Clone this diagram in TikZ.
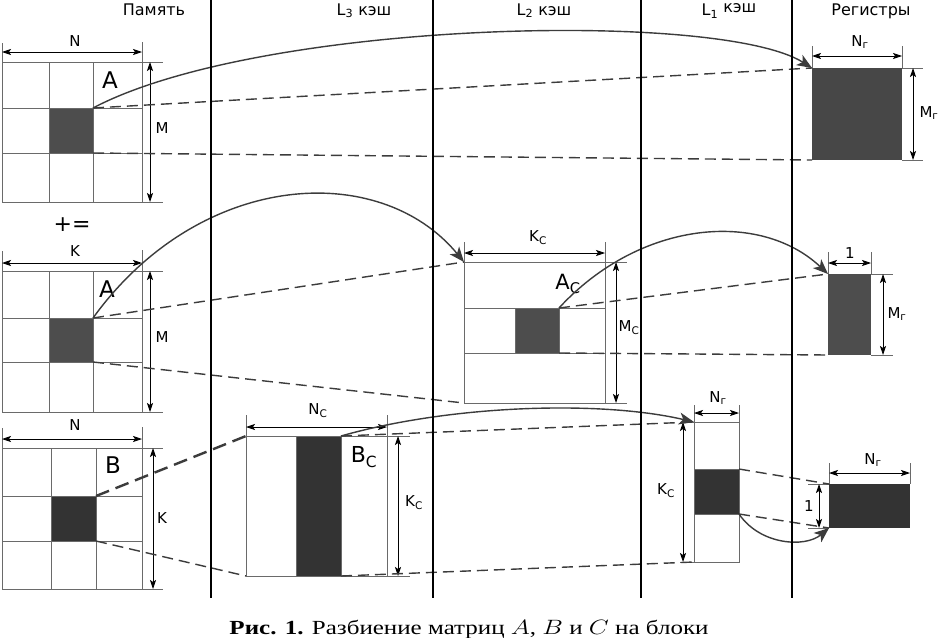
\documentclass[tikz,border=0pt]{standalone}
\usepackage{fontspec}
\newfontfamily\dv{DejaVu Sans}
\newfontfamily\capf{Liberation Serif}
\usetikzlibrary{arrows.meta}
\definecolor{lc}{HTML}{3C3C3C}
\definecolor{gc}{HTML}{6A6A6A}
\definecolor{dk}{HTML}{333333}
\definecolor{md}{HTML}{4D4D4D}
\begin{document}
\begin{tikzpicture}[x=1pt,y=-1pt,
 vline/.style={line width=2.6pt, black},
 gridln/.style={draw=gc, line width=0.9pt},
 dimarr/.style={{Stealth[length=9pt,width=6pt,inset=2pt]}-{Stealth[length=9pt,width=6pt,inset=2pt]}, line width=0.8pt, black},
 blk/.style={draw=gc, line width=0.9pt, inner sep=0pt, outer sep=0pt, anchor=north west},
 conn/.style={draw=lc, line width=1.4pt},
 dsh/.style={conn, dash pattern=on 11pt off 6pt},
 bigtip/.style={-{Stealth[length=15pt,width=12pt,inset=4pt]}},
 hdr/.style={font=\dv\fontsize{16}{18}\selectfont, anchor=base, inner sep=0pt},
 dimlbl/.style={font=\dv\fontsize{15}{17}\selectfont, inner sep=0pt},
 biglbl/.style={font=\dv\fontsize{23}{26}\selectfont, inner sep=0pt},
]
\fill[white] (0,0) rectangle (939,637);
\useasboundingbox (0,0) rectangle (939,637);

% headers
\node[hdr] (hmem) at (154,15) {Память};
\node[hdr] (hl3) at (364,15) {L\textsubscript{3} кэш};
\node[hdr] (hl2) at (544,15) {L\textsubscript{2} кэш};
\node[hdr] (hl1) at (729,16) {L\textsubscript{1} \raisebox{3pt}{кэш}};
\node[hdr] (hreg) at (871,15) {Регистры};

% ---------- Matrix A (top) ----------
\draw[gridln] (2,62) -- (163,62) (2,202) -- (163,202);
\draw[gridln] (2,108) -- (142,108) (2,153) -- (142,153);
\draw[gridln] (2,43) -- (2,202) (142,42) -- (142,202);
\draw[gridln] (49,62) -- (49,202) (93,62) -- (93,202);
\node[blk, fill=md, minimum width=44pt, minimum height=45pt] (a1c) at (49,108) {};
\draw[dimarr] (2,52) -- (142,52);
\draw[dimarr] (150,62) -- (150,202);
\node[dimlbl] (lN1) at (75,41) {N};
\node[dimlbl] (lM1) at (162,128) {M};
\node[biglbl] (lA1) at (110,80) {A};

% ---------- Matrix A (middle) ----------
\node[font=\dv\fontsize{22}{24}\selectfont, inner sep=0pt] (pe) at (72,225) {+=};
\draw[gridln] (2,271) -- (163,271) (2,412) -- (163,412);
\draw[gridln] (2,318) -- (142,318) (2,362) -- (142,362);
\draw[gridln] (2,251) -- (2,412) (142,250) -- (142,412);
\draw[gridln] (49,271) -- (49,412) (93,271) -- (93,412);
\node[blk, fill=md, minimum width=44pt, minimum height=44pt] (a2c) at (49,318) {};
\draw[dimarr] (2,263) -- (142,263);
\draw[dimarr] (150,271) -- (150,412);
\node[dimlbl] (lK2) at (75,251) {K};
\node[dimlbl] (lM2) at (162,337) {M};
\node[biglbl] (lA2) at (107,289) {A};

% ---------- Matrix B ----------
\draw[gridln] (2,448) -- (163,448) (2,589) -- (163,589);
\draw[gridln] (2,496) -- (142,496) (2,541) -- (142,541);
\draw[gridln] (2,428) -- (2,589) (142,427) -- (142,589);
\draw[gridln] (51,448) -- (51,589) (96,448) -- (96,589);
\node[blk, fill=dk, minimum width=45pt, minimum height=45pt] (bc) at (51,496) {};
\draw[dimarr] (2,439) -- (142,439);
\draw[dimarr] (153,448) -- (153,589);
\node[dimlbl] (lN3) at (75,425) {N};
\node[dimlbl] (lK3) at (162,518) {K};
\node[biglbl] (lB) at (113,465) {B};

% ---------- L3: B_c ----------
\node[blk, minimum width=141pt, minimum height=140pt] (bcb) at (246,436) {};
\node[blk, fill=dk, minimum width=45pt, minimum height=140pt] (bcc) at (296,436) {};
\draw[gridln] (246,415) -- (246,436) (387,415) -- (387,436) (387,436) -- (410,436) (387,576) -- (410,576);
\draw[dimarr] (246,427) -- (387,427);
\draw[dimarr] (398,436) -- (398,576);
\node[dimlbl] (lNc) at (318,411) {N\textsubscript{C}};
\node[dimlbl] (lKc1) at (414,503) {K\textsubscript{C}};
\node[biglbl, font=\dv\fontsize{22}{24}\selectfont] (lBc) at (364,457) {B\textsubscript{C}};

% ---------- L2: A_c ----------
\node[blk, minimum width=141pt, minimum height=141pt] (acb) at (464,262) {};
\draw[gridln] (464,308) -- (605,308) (464,353) -- (605,353);
\node[blk, fill=md, minimum width=44pt, minimum height=45pt] (acc) at (515,308) {};
\draw[gridln] (464,242) -- (464,262) (605,242) -- (605,262) (605,262) -- (627,262) (605,403) -- (627,403);
\draw[dimarr] (464,253) -- (605,253);
\draw[dimarr] (616,262) -- (616,403);
\node[dimlbl] (lKc2) at (538,238) {K\textsubscript{C}};
\node[dimlbl] (lMc) at (629,328) {M\textsubscript{C}};
\node[biglbl, font=\dv\fontsize{21}{24}\selectfont] (lAc) at (568,284) {A\textsubscript{C}};

% ---------- L1 ----------
\node[blk, minimum width=45pt, minimum height=140pt] (l1blk) at (694,422) {};
\node[blk, fill=dk, minimum width=45pt, minimum height=45pt] (l1c) at (694,469) {};
\draw[gridln] (694,405) -- (694,422) (739,405) -- (739,422) (680,422) -- (694,422) (680,562) -- (694,562);
\draw[dimarr] (694,413) -- (739,413);
\draw[dimarr] (683,422) -- (683,562);
\node[dimlbl] (lNr1) at (718,398) {N\textsubscript{г}};
\node[dimlbl] (lKc3) at (666,491) {K\textsubscript{C}};

% ---------- Registers ----------
\node[blk, draw=none, fill=dk!90!white, minimum width=90pt, minimum height=92pt] (r1) at (812,68) {};
\draw[gridln] (812,46) -- (812,68) (902,46) -- (902,68) (902,68) -- (923,68) (902,160) -- (923,160);
\draw[dimarr] (812,56) -- (902,56);
\draw[dimarr] (913,68) -- (913,160);
\node[dimlbl] (lNr2) at (860,42) {N\textsubscript{г}};
\node[dimlbl] (lMr1) at (929,113) {M\textsubscript{г}};

\node[blk, draw=none, fill=md, minimum width=43pt, minimum height=81pt] (r2) at (828,274) {};
\draw[gridln] (828,252) -- (828,274) (871,252) -- (871,274) (871,274) -- (893,274) (871,355) -- (893,355);
\draw[dimarr] (828,263) -- (871,263);
\draw[dimarr] (883,274) -- (883,355);
\node[dimlbl] (lone1) at (850,253) {1};
\node[dimlbl] (lMr2) at (897,314) {M\textsubscript{г}};

\node[blk, draw=none, fill=dk, minimum width=81pt, minimum height=44pt] (r3) at (829,484) {};
\draw[gridln] (829,463) -- (829,484) (910,463) -- (910,484) (808,484) -- (829,484) (808,528) -- (829,528);
\draw[dimarr] (829,473) -- (910,473);
\draw[dimarr] (819,484) -- (819,528);
\node[dimlbl] (lNr3) at (873,460) {N\textsubscript{г}};
\node[dimlbl] (lone2) at (809,506) {1};

% ---------- connectors ----------
\draw[conn, bigtip] (a1c.north east) .. controls (260,20) and (720,10) .. (r1.north west);
\draw[dsh] (a1c.north east) -- (r1.north west);
\draw[dsh] (a1c.south east) -- (r1.south west);

\draw[conn, bigtip] (a2c.north east) .. controls (200,170) and (380,160) .. (acb.north west);
\draw[dsh] (a2c.north east) -- (acb.north west);
\draw[dsh] (a2c.south east) -- (acb.south west);

\draw[conn, bigtip] (acc.north east) .. controls (640,220) and (760,210) .. (r2.north west);
\draw[dsh] (acc.north east) -- (r2.north west);
\draw[dsh] (acc.south east) -- (r2.south west);

\draw[conn, line width=2.4pt, dash pattern=on 14pt off 7pt] (bc.north east) -- (bcb.north west);
\draw[dsh] (bc.south east) -- (bcb.south west);

\draw[conn, bigtip] (bcc.north east) .. controls (450,405) and (600,400) .. (l1blk.north west);
\draw[dsh] (bcc.north east) -- (l1blk.north west);
\draw[dsh] (bcc.south east) -- (l1blk.south west);

\draw[dsh] (l1c.north east) -- (r3.north west);
\draw[dsh] (l1c.south east) -- (r3.south west);
\draw[conn, bigtip] (l1c.south east) .. controls (760,545) and (805,548) .. (r3.south west);

% vertical separators
\draw[vline] (211,0) -- (211,598);
\draw[vline] (433,0) -- (433,598);
\draw[vline] (641,0) -- (641,598);
\draw[vline] (792,0) -- (792,598);

% caption
\node[anchor=base, inner sep=0pt] (cap) at (469,634) {\scalebox{1.25}[1]{\capf\fontsize{20}{23}\selectfont\textbf{Рис. 1.} Разбиение матриц $A$, $B$ и $C$ на блоки}};
\end{tikzpicture}
\end{document}
